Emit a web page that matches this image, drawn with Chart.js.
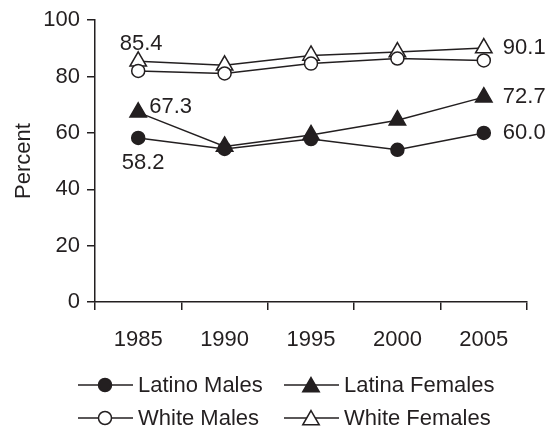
<!DOCTYPE html>
<html>
<head>
<meta charset="utf-8">
<script src="https://cdn.jsdelivr.net/npm/chart.js@4/dist/chart.umd.min.js"></script>
<style>
    body { margin: 0; background: #fff; }
</style>
</head>
<body>
<canvas id="graficoPercent" width="550" height="430"></canvas>
<script>
// dados
const anos = ["1985", "1990", "1995", "2000", "2005"];
const latinoMales = [58.2, 54.3, 57.8, 54.0, 60.0];
const latinaFemales = [67.3, 55.2, 59.3, 64.5, 72.7];
const whiteMales = [82.0, 81.1, 84.6, 86.4, 85.7];
const whiteFemales = [85.4, 84.0, 87.5, 88.7, 90.1];
const nomesSeries = ["Latino Males", "Latina Females", "White Males", "White Females"];
const yTicks = [0, 20, 40, 60, 80, 100];

const cor = "#231f20";
const fonte = { family: '"Liberation Sans", Arial, sans-serif', size: 22 };

Chart.defaults.font.family = fonte.family;
Chart.defaults.font.size = fonte.size;
Chart.defaults.color = cor;

function serie(nome, valores, estilo, preenchido) {
    return {
        label: nome,
        data: valores,
        borderColor: cor,
        borderWidth: 1.5,
        tension: 0,
        pointStyle: estilo,
        pointRadius: estilo === 'triangle' ? 9.5 : 6.5,
        pointBorderWidth: 1.5,
        pointBorderColor: cor,
        pointBackgroundColor: preenchido ? cor : '#fff',
        clip: false
    };
}

// rotulos de valor (qual serie / qual ano, e onde escrever)
const rotulos = [
    { serie: 3, ponto: 0, dx: 3, dy: -17, align: 'center' },
    { serie: 1, ponto: 0, dx: 11, dy: -5, align: 'left' },
    { serie: 0, ponto: 0, dx: 5, dy: 25, align: 'center' },
    { serie: 3, ponto: 4, dx: 19, dy: 0, align: 'left' },
    { serie: 1, ponto: 4, dx: 19, dy: 0, align: 'left' },
    { serie: 0, ponto: 4, dx: 19, dy: 0, align: 'left' }
];

const rotulosPlugin = {
    id: 'rotulosPlugin',
    afterDatasetsDraw(chart) {
        const ctx = chart.ctx;
        ctx.save();
        ctx.font = fonte.size + 'px ' + fonte.family;
        ctx.fillStyle = cor;
        ctx.textBaseline = 'middle';
        rotulos.forEach((r) => {
            const valor = chart.data.datasets[r.serie].data[r.ponto];
            const x = chart.scales.x.getPixelForValue(r.ponto);
            const y = chart.scales.y.getPixelForValue(valor);
            ctx.textAlign = r.align;
            ctx.fillText(valor.toFixed(1), x + r.dx, y + r.dy);
        });
        ctx.restore();
    }
};

// legenda desenhada a mao: linha + marcador + texto
const legendaPlugin = {
    id: 'legendaPlugin',
    afterDraw(chart) {
        const ctx = chart.ctx;
        const colunas = [78, 284];
        const linhas = [385, 418];
        ctx.save();
        chart.data.datasets.forEach((ds, i) => {
            const x = colunas[i % 2];
            const y = linhas[Math.floor(i / 2)];
            ctx.strokeStyle = cor;
            ctx.lineWidth = 1.5;
            ctx.beginPath();
            ctx.moveTo(x, y);
            ctx.lineTo(x + 55, y);
            ctx.stroke();

            ctx.fillStyle = ds.pointBackgroundColor;
            ctx.strokeStyle = cor;
            ctx.lineWidth = 1.5;
            Chart.helpers.drawPoint(ctx, {
                pointStyle: ds.pointStyle,
                radius: ds.pointRadius,
                rotation: 0,
                borderWidth: 1.5
            }, x + 27, y + (ds.pointStyle === 'triangle' ? 2 : 0));

            ctx.fillStyle = cor;
            ctx.font = fonte.size + 'px ' + fonte.family;
            ctx.textAlign = 'left';
            ctx.textBaseline = 'middle';
            ctx.fillText(ds.label, x + 60, y + 1);
        });
        ctx.restore();
    }
};

const ctx = document.getElementById('graficoPercent').getContext('2d');
const grafico = new Chart(ctx, {
    type: 'line',
    data: {
        labels: anos,
        datasets: [
            serie(nomesSeries[0], latinoMales, 'circle', true),
            serie(nomesSeries[1], latinaFemales, 'triangle', true),
            serie(nomesSeries[2], whiteMales, 'circle', false),
            serie(nomesSeries[3], whiteFemales, 'triangle', false)
        ]
    },
    options: {
        responsive: false,
        animation: false,
        layout: { padding: { top: 15, right: 23, bottom: 78, left: 0 } },
        plugins: {
            legend: { display: false },
            tooltip: { enabled: false }
        },
        scales: {
            x: {
                offset: true,
                grid: { offset: true, drawOnChartArea: false, tickLength: 8, color: cor, lineWidth: 1.5 },
                border: { color: cor, width: 1.5 },
                ticks: { color: cor, padding: 17, maxRotation: 0 },
                afterFit(s) { s.height = 50; }
            },
            y: {
                min: 0,
                max: 100,
                afterBuildTicks(s) { s.ticks = yTicks.map(v => ({ value: v })); },
                grid: { drawOnChartArea: false, tickLength: 8, color: cor, lineWidth: 1.5 },
                border: { color: cor, width: 1.5 },
                ticks: { color: cor, padding: 7 },
                title: { display: true, text: 'Percent', color: cor, padding: { top: 11, bottom: 0 } },
                afterFit(s) { s.width = 95; }
            }
        }
    },
    plugins: [rotulosPlugin, legendaPlugin]
});
</script>
</body>
</html>
